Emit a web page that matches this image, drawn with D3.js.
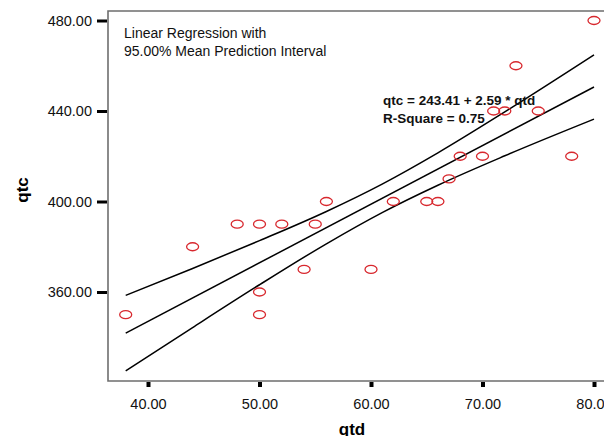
<!DOCTYPE html>
<html>
<head>
<meta charset="utf-8">
<script src="https://cdn.jsdelivr.net/npm/d3@7"></script>
<style>
  body { margin: 0; background: #fff; }
  svg { display: block; font-family: "Liberation Sans", Arial, sans-serif; }
</style>
</head>
<body>
<svg width="604" height="436"></svg>
<script>
// observed cases
const qtd = [38, 44, 48, 50, 50, 50, 52, 54, 55, 56, 60, 62, 65, 66, 67, 68, 70, 71, 72, 73, 75, 78, 80];
const qtc = [350, 380, 390, 390, 360, 350, 390, 370, 390, 400, 370, 400, 400, 400, 410, 420, 420, 440, 440, 460, 440, 420, 480];

// fit line from the printed equation
const intercept = 243.41;
const slope = 2.59;
const rSquare = 0.75;
const fitRange = [38, 80];

// 95% mean interval
const bandQtd = [38, 44, 50, 56, 61, 66, 72, 80];
const bandUpper = [358.5, 370.4, 382.7, 395.6, 407.7, 421.5, 439.6, 464.8];
const bandLower = [325.1, 344.3, 363.2, 381.3, 395.1, 407.2, 420.2, 436.4];

const xTicks = [40, 50, 60, 70, 80];
const yTicks = [360, 400, 440, 480];

const svg = d3.select('svg');
const box = { left: 108, right: 640, top: 11, bottom: 381 };

const x = d3.scaleLinear().domain([40, 80]).range([148, 594]);
const y = d3.scaleLinear().domain([360, 480]).range([292, 20.5]);
const fmt = d3.format('.2f');

// frame
svg.append('path')
    .attr('d', `M${box.right},${box.top}H${box.left}V${box.bottom}H${box.right}`)
    .attr('fill', 'none')
    .attr('stroke', '#6e6e6e')
    .attr('stroke-width', 1.6);

// axes
const yAxis = svg.append('g')
    .attr('transform', `translate(${box.left},0)`)
    .call(d3.axisLeft(y).tickValues(yTicks).tickFormat(fmt).tickSize(11).tickPadding(5));
yAxis.select('.domain').remove();
yAxis.selectAll('.tick line').attr('stroke', '#000').attr('stroke-width', 3).attr('x2', -11).attr('x1', -1);
yAxis.selectAll('.tick text').attr('font-size', 14.5).attr('fill', '#111').attr('font-family', null);

const xAxis = svg.append('g')
    .attr('transform', `translate(0,${box.bottom})`)
    .call(d3.axisBottom(x).tickValues(xTicks).tickFormat(fmt).tickSize(6).tickPadding(12));
xAxis.select('.domain').remove();
xAxis.selectAll('.tick line').attr('stroke', '#000').attr('stroke-width', 4).attr('y1', 1);
xAxis.selectAll('.tick text').attr('font-size', 14.5).attr('fill', '#111').attr('font-family', null);

// axis titles
svg.append('text')
    .attr('x', 352).attr('y', 435)
    .attr('text-anchor', 'middle')
    .attr('font-size', 17).attr('font-weight', 'bold')
    .text('qtd');
svg.append('text')
    .attr('transform', 'translate(28,190) rotate(-90)')
    .attr('text-anchor', 'middle')
    .attr('font-size', 17).attr('font-weight', 'bold')
    .text('qtc');

// band and fit lines
const line = d3.line().curve(d3.curveMonotoneX).x(d => x(d[0])).y(d => y(d[1]));
const lineStyle = sel => sel.attr('fill', 'none').attr('stroke', '#000').attr('stroke-width', 1.5);

svg.append('path').datum(bandQtd.map((v, i) => [v, bandUpper[i]])).attr('d', line).call(lineStyle);
svg.append('path').datum(bandQtd.map((v, i) => [v, bandLower[i]])).attr('d', line).call(lineStyle);
svg.append('path').datum(fitRange.map(v => [v, intercept + slope * v])).attr('d', line).call(lineStyle);

// points
svg.append('g').selectAll('ellipse')
    .data(qtd.map((v, i) => ({ qtd: v, qtc: qtc[i] })))
    .enter().append('ellipse')
    .attr('cx', d => x(d.qtd))
    .attr('cy', d => y(d.qtc))
    .attr('rx', 6).attr('ry', 4)
    .attr('fill', 'none')
    .attr('stroke', '#d8282e')
    .attr('stroke-width', 1.3);

// legend text
const legend = svg.append('text').attr('x', 124).attr('y', 38).attr('font-size', 14).attr('fill', '#111');
legend.append('tspan').attr('x', 124).text('Linear Regression with');
legend.append('tspan').attr('x', 124).attr('dy', 18).text('95.00% Mean Prediction Interval');

const eq = svg.append('text').attr('x', 383).attr('y', 105).attr('font-size', 13.5).attr('font-weight', 'bold').attr('fill', '#111');
eq.append('tspan').attr('x', 383).text(`qtc = ${intercept} + ${slope} * qtd`);
eq.append('tspan').attr('x', 383).attr('dy', 18).text(`R-Square = ${rSquare}`);
</script>
</body>
</html>
